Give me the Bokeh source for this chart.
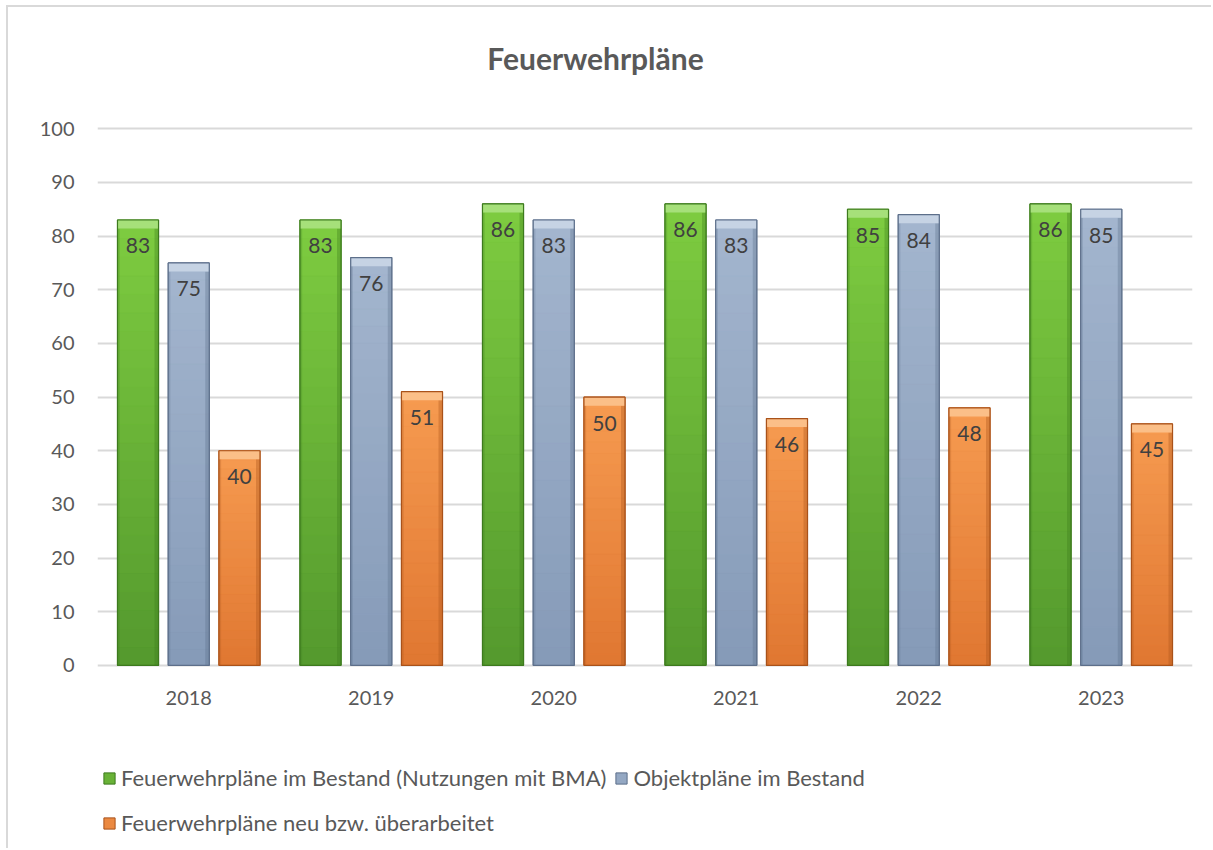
from bokeh.plotting import figure
from bokeh.models import (ColumnDataSource, FactorRange, Range1d, Legend, LegendItem,
                          LabelSet, Label, FixedTicker)
from bokeh.transform import dodge
from bokeh.embed import file_html
from bokeh.resources import INLINE
from bokeh.core.properties import value

# ---------------- data ----------------
years = ["2018", "2019", "2020", "2021", "2022", "2023"]
fw_bestand = [83, 83, 86, 86, 85, 86]
objektplaene = [75, 76, 83, 83, 84, 85]
fw_neu = [40, 51, 50, 46, 48, 45]
series_names = ["Feuerwehrpläne im Bestand (Nutzungen mit BMA)",
                "Objektpläne im Bestand",
                "Feuerwehrpläne neu bzw. überarbeitet"]
y_ticks = [0, 10, 20, 30, 40, 50, 60, 70, 80, 90, 100]
title_text = "Feuerwehrpläne"

# ---------------- styling ----------------
FONT = "Lato"
TXT = "#595959"
styles = [
    # offset, top colour, bottom colour, edge colour, cap colour
    (-0.278, (0x7d, 0xcb, 0x40), (0x55, 0x9a, 0x2e), "#3d7a1e", "#a6e07a"),
    (0.0, (0xa3, 0xb5, 0xce), (0x86, 0x9b, 0xb8), "#5d6f8a", "#c6d3e4"),
    (0.278, (0xf6, 0x9a, 0x50), (0xe0, 0x78, 0x32), "#a9521a", "#fbbf88"),
]
BAR_W = 0.225
N_BANDS = 24
CAP = 1.6

p = figure(x_range=FactorRange(factors=years, range_padding=0),
           y_range=Range1d(-34.5, 122.6),
           width=1205, height=843,
           output_backend="svg", toolbar_location=None,
           min_border_left=89, min_border_right=21,
           min_border_top=0, min_border_bottom=0,
           background_fill_color="white", border_fill_color="white",
           outline_line_color=None)
p.margin = (5, 0, 0, 6)
p.styles = {"border-top": "2px solid #d9d9d9", "border-left": "2px solid #d9d9d9"}

def hexc(c):
    return "#%02x%02x%02x" % tuple(int(round(v)) for v in c)

renderers = []
for vals, (off, ctop, cbot, edge, cap) in zip([fw_bestand, objektplaene, fw_neu], styles):
    xd = dodge("year", off, range=p.x_range)
    base = ColumnDataSource(dict(year=years, v=vals, cap_b=[v - CAP for v in vals],
                                 lab=[str(v) for v in vals]))
    mid = hexc([(a + b) / 2 for a, b in zip(ctop, cbot)])
    r = p.vbar(x=xd, top="v", bottom=0, width=BAR_W, source=base,
               fill_color=mid, line_color=edge, line_width=1)
    renderers.append(r)
    # vertical gradient bands
    bx, bb, bt, bc = [], [], [], []
    for y, v in zip(years, vals):
        for k in range(N_BANDS):
            t = k / (N_BANDS - 1)
            bx.append(y)
            bb.append(v * k / N_BANDS)
            bt.append(v * (k + 1) / N_BANDS)
            bc.append(hexc([b + (a - b) * t for a, b in zip(ctop, cbot)]))
    bands = ColumnDataSource(dict(year=bx, b=bb, t=bt, c=bc))
    p.vbar(x=xd, top="t", bottom="b", width=BAR_W, source=bands,
           fill_color="c", line_color="c", line_width=0.5)
    # side shading
    p.vbar(x=dodge("year", off + BAR_W / 2 - 0.011, range=p.x_range), top="cap_b",
           bottom=0, width=0.022, source=base, fill_color=edge, fill_alpha=0.35,
           line_color=None)
    p.vbar(x=dodge("year", off - BAR_W / 2 + 0.006, range=p.x_range), top="cap_b",
           bottom=0, width=0.012, source=base, fill_color=edge, fill_alpha=0.25,
           line_color=None)
    # bevel cap
    p.vbar(x=xd, top="v", bottom="cap_b", width=BAR_W, source=base,
           fill_color=cap, line_color=None)
    # edge outline
    p.vbar(x=xd, top="v", bottom=0, width=BAR_W, source=base,
           fill_color=None, line_color=edge, line_width=1.2)
    # value labels
    p.add_layout(LabelSet(x=xd, y="v", text="lab", source=base, y_offset=-26,
                          text_align="center", text_baseline="middle",
                          text_font=value(FONT), text_font_size="21px",
                          text_color="#404040"))

# category labels along the base line
cat_src = ColumnDataSource(dict(year=years, y0=[0] * len(years)))
p.text(x="year", y="y0", text="year", source=cat_src, y_offset=33,
       text_align="center", text_baseline="middle",
       text_font=value(FONT), text_font_size="20px", text_color=TXT)

# axes
p.xaxis.visible = False
p.yaxis.ticker = FixedTicker(ticks=y_ticks)
p.yaxis.axis_line_color = None
p.yaxis.major_tick_line_color = None
p.yaxis.minor_tick_line_color = None
p.yaxis.major_label_standoff = 17
p.yaxis.major_label_text_font = FONT
p.yaxis.major_label_text_font_size = "20px"
p.yaxis.major_label_text_color = TXT

p.xgrid.grid_line_color = None
p.ygrid.ticker = FixedTicker(ticks=y_ticks)
p.ygrid.grid_line_color = "#d9d9d9"
p.ygrid.grid_line_width = 2

# title
p.add_layout(Label(x=2.729, y=113.1, text=title_text, text_align="center",
                   text_baseline="middle", text_font=FONT, text_font_size="30px",
                   text_font_style="bold", text_color=TXT))

# legends
def make_legend(items, loc):
    return Legend(items=items, orientation="horizontal", location=loc,
                  margin=0, padding=7, spacing=8, label_standoff=5,
                  glyph_width=14, glyph_height=14, label_height=24,
                  label_text_font=FONT, label_text_font_size="22px",
                  label_text_color=TXT, background_fill_alpha=0,
                  border_line_color=None)

lg1 = make_legend([LegendItem(label=series_names[0], renderers=[renderers[0]]),
                   LegendItem(label=series_names[1], renderers=[renderers[1]])], (5, 59))
lg2 = make_legend([LegendItem(label=series_names[2], renderers=[renderers[2]])], (5, 14))
p.add_layout(lg1)
p.add_layout(lg2)

open("out.html", "w").write(file_html(p, INLINE))
